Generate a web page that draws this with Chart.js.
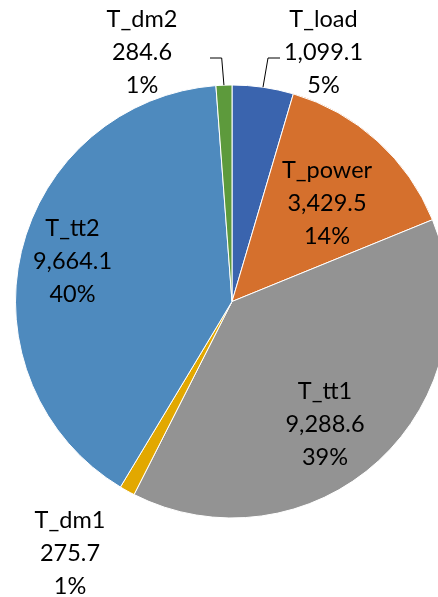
<!DOCTYPE html>
<html>
<head>
<meta charset="utf-8">
<script src="https://cdn.jsdelivr.net/npm/chart.js@4/dist/chart.umd.min.js"></script>
<style>
  html, body { margin: 0; padding: 0; background: #fff; overflow: hidden; }
  #wrap { position: relative; width: 438px; height: 597px; overflow: hidden; }
  #pie { position: absolute; left: 0; top: 0; }
</style>
</head>
<body>
<div id="wrap"><canvas id="pie" width="460" height="597"></canvas></div>
<script>
/* ---------- Data ---------- */
var CATEGORIES = ['T_load', 'T_power', 'T_tt1', 'T_dm1', 'T_tt2', 'T_dm2'];
var VALUES = [1099.1, 3429.5, 9288.6, 275.7, 9664.1, 284.6];
var COLORS = ['#3A64AE', '#D5702D', '#939393', '#E2A800', '#4E8ABE', '#5D9A3C'];

/* ---------- Label layout (text centre x, first baseline y) ---------- */
var LABEL_X = [323.5, 327, 325, 70, 72.5, 142];
var LABEL_Y = [27, 178, 399, 528, 236, 27];
var LINE_H = 32.8;
// leader lines: index -> elbow x, y, end x
var LEADERS = { 0: [268, 58, 280], 5: [221.7, 58, 210] };

function fmtValue(v) {
  return v.toLocaleString('en-US', { minimumFractionDigits: 1, maximumFractionDigits: 1 });
}

var total = VALUES.reduce(function (a, b) { return a + b; }, 0);

var labelPlugin = {
  id: 'excelLabels',
  afterDraw: function (chart) {
    var ctx = chart.ctx;
    var meta = chart.getDatasetMeta(0);
    ctx.save();

    // leader lines
    ctx.strokeStyle = '#000';
    ctx.lineWidth = 1;
    Object.keys(LEADERS).forEach(function (k) {
      var i = +k;
      var arc = meta.data[i];
      var mid = (arc.startAngle + arc.endAngle) / 2;
      var sx = arc.x + Math.cos(mid) * arc.outerRadius;
      var sy = arc.y + Math.sin(mid) * arc.outerRadius;
      var L = LEADERS[k];
      ctx.beginPath();
      ctx.moveTo(sx, sy);
      ctx.lineTo(L[0], L[1]);
      ctx.lineTo(L[2], L[1]);
      ctx.stroke();
    });

    ctx.fillStyle = '#000';
    ctx.font = '23.5px Lato, "Open Sans", sans-serif';
    ctx.textAlign = 'center';
    ctx.textBaseline = 'alphabetic';
    CATEGORIES.forEach(function (name, i) {
      var lines = [name, fmtValue(VALUES[i]), Math.round(VALUES[i] / total * 100) + '%'];
      lines.forEach(function (t, j) {
        ctx.fillText(t, LABEL_X[i], LABEL_Y[i] + j * LINE_H);
      });
    });
    ctx.restore();
  }
};

new Chart(document.getElementById('pie'), {
  type: 'pie',
  data: {
    labels: CATEGORIES,
    datasets: [{
      data: VALUES,
      backgroundColor: COLORS,
      borderColor: '#ffffff',
      borderWidth: 1
    }]
  },
  options: {
    responsive: false,
    animation: false,
    devicePixelRatio: 1,
    layout: { padding: { left: 15, right: 11, top: 84.5, bottom: 78.5 } },
    plugins: {
      legend: { display: false },
      tooltip: { enabled: false }
    }
  },
  plugins: [labelPlugin]
});
</script>
</body>
</html>
